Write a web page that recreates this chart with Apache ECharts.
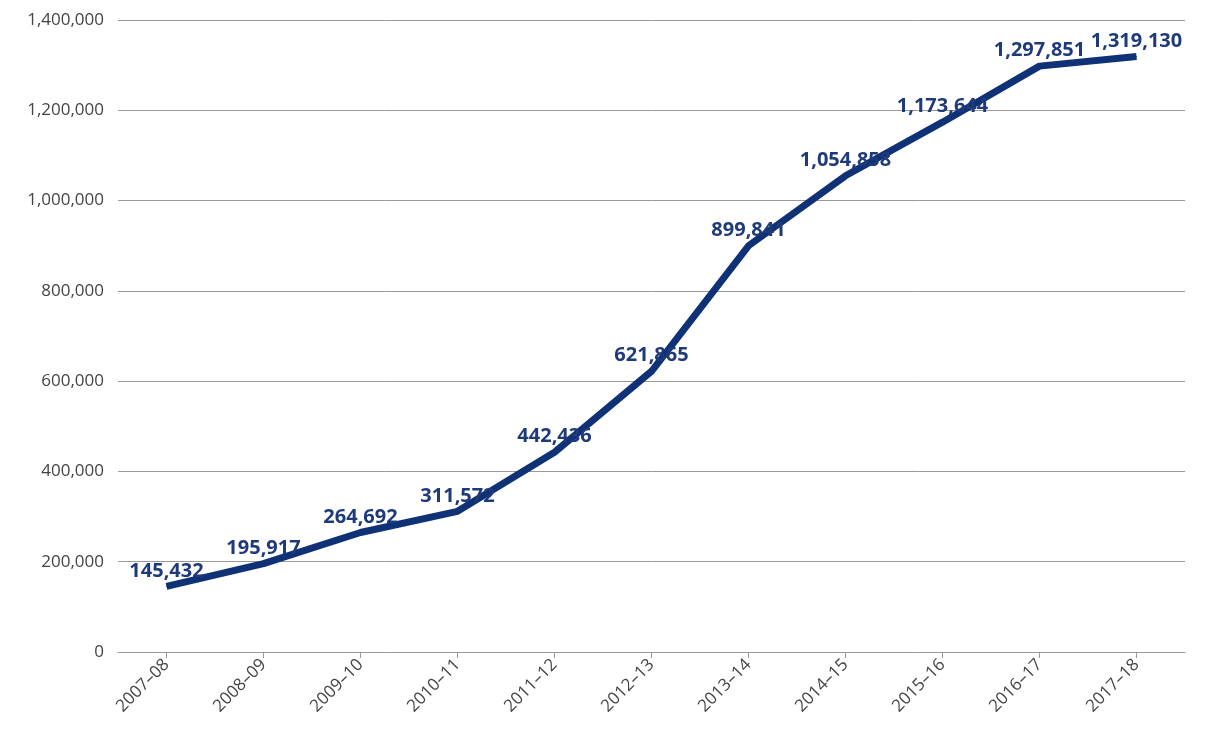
<!DOCTYPE html>
<html><head><meta charset="utf-8">
<script src="https://cdn.jsdelivr.net/npm/echarts@6/dist/echarts.min.js"></script>
<style>html,body{margin:0;padding:0;background:#fff}#c{width:1225px;height:756px}</style>
</head><body><div id="c"></div>
<script>
const categories = ['2007–08','2008–09','2009–10','2010–11','2011–12','2012–13','2013–14','2014–15','2015–16','2016–17','2017–18'];
const values = [145432,195917,264692,311572,442436,621865,899841,1054858,1173644,1297851,1319130];
const chart = echarts.init(document.getElementById('c'));
chart.setOption({
  animation:false,
  grid:{left:118,right:40,top:20,bottom:104},
  xAxis:{type:'category',data:categories,boundaryGap:true,
    axisLine:{lineStyle:{color:'#999'}},axisTick:{show:true,alignWithLabel:true,length:6,lineStyle:{color:'#999'}},
    axisLabel:{rotate:45,fontSize:17,color:'#444',fontFamily:'Open Sans',margin:10,interval:0}},
  yAxis:{type:'value',min:0,max:1400000,interval:200000,
    axisLine:{show:false},axisTick:{show:false},
    splitLine:{lineStyle:{color:'#999',width:1}},
    axisLabel:{fontSize:17,color:'#444',fontFamily:'Open Sans',margin:14,
      formatter:v=>v.toLocaleString('en-US')}},
  series:[{type:'line',data:values,symbol:'circle',symbolSize:1,showSymbol:true,
    itemStyle:{color:'#0f3276'},
    lineStyle:{color:'#0f3276',width:7},
    labelLayout:{hideOverlap:false},
    label:{show:true,position:'top',offset:[-14,-4],fontSize:20,fontWeight:'bold',color:'#1f3a7a',fontFamily:'Open Sans',
      formatter:p=>p.value.toLocaleString('en-US')}}]
});
</script></body></html>
